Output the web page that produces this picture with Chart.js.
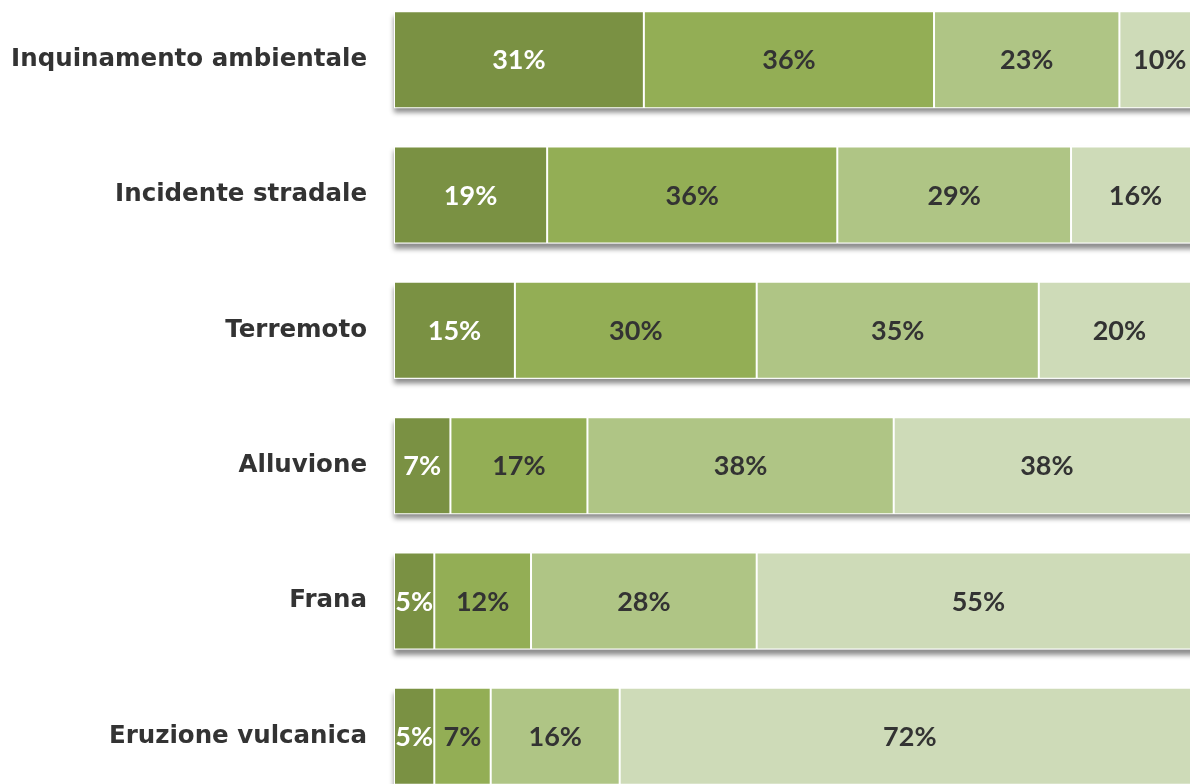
<!DOCTYPE html>
<html>
<head>
<meta charset="utf-8">
<script src="https://cdn.jsdelivr.net/npm/chart.js@4/dist/chart.umd.min.js"></script>
<style>
  html, body { margin: 0; padding: 0; background: #fff; overflow: hidden; }
  body { width: 1190px; height: 784px; position: relative; }
  #chart { position: absolute; left: 0; top: -8px; }
</style>
</head>
<body>
<canvas id="chart" width="1200" height="812"></canvas>
<script>
/*******************************************************************************
 * DATA
 */
const categories = [
  'Inquinamento ambientale',
  'Incidente stradale',
  'Terremoto',
  'Alluvione',
  'Frana',
  'Eruzione vulcanica'
];
const seriesNames = ['Molto', 'Abbastanza', 'Poco', 'Per niente'];
const molto      = [31, 19, 15, 7, 5, 5];
const abbastanza = [36, 36, 30, 17, 12, 7];
const poco       = [23, 29, 35, 38, 28, 16];
const perNiente  = [10, 16, 20, 38, 55, 72];

const colors = ['#7a9143', '#93ae55', '#afc585', '#cedbb8'];
const labelColors = ['#ffffff', '#333333', '#333333', '#333333'];

/*******************************************************************************
 * PLUGINS
 */
// soft shadow under each whole stacked bar
const barShadow = {
  id: 'barShadow',
  beforeDatasetsDraw(chart) {
    const ctx = chart.ctx;
    const n = chart.data.datasets.length;
    const first = chart.getDatasetMeta(0).data;
    const last = chart.getDatasetMeta(n - 1).data;
    ctx.save();
    ctx.shadowColor = 'rgba(0, 0, 0, 0.45)';
    ctx.shadowOffsetY = 5;
    ctx.shadowBlur = 5;
    ctx.fillStyle = '#ffffff';
    first.forEach((bar, j) => {
      const a = bar.getProps(['base', 'y', 'height'], true);
      const b = last[j].getProps(['x'], true);
      ctx.fillRect(a.base, a.y - a.height / 2, b.x - a.base, a.height);
    });
    ctx.restore();
  }
};

const barLabels = {
  id: 'barLabels',
  afterDatasetsDraw(chart) {
    const ctx = chart.ctx;
    ctx.save();
    ctx.font = 'bold 27px Lato';
    ctx.textAlign = 'center';
    ctx.textBaseline = 'middle';
    chart.data.datasets.forEach((ds, i) => {
      const meta = chart.getDatasetMeta(i);
      meta.data.forEach((bar, j) => {
        const p = bar.getProps(['x', 'y', 'base'], true);
        ctx.fillStyle = labelColors[i];
        ctx.fillText(ds.data[j] + '%', (p.x + p.base) / 2, p.y + 1);
      });
    });
    ctx.restore();
  }
};

/*******************************************************************************
 * CHART
 */
const datasets = [molto, abbastanza, poco, perNiente].map((data, i) => ({
  label: seriesNames[i],
  data: data,
  backgroundColor: colors[i],
  borderColor: '#ffffff',
  borderWidth: 1,
  borderSkipped: false,
  barPercentage: 0.717,
  categoryPercentage: 1
}));

new Chart(document.getElementById('chart'), {
  type: 'bar',
  data: { labels: categories, datasets: datasets },
  options: {
    indexAxis: 'y',
    responsive: false,
    animation: false,
    layout: { padding: 0 },
    plugins: {
      legend: { display: false },
      tooltip: { enabled: false }
    },
    scales: {
      x: {
        stacked: true,
        min: 0,
        max: 100,
        display: false
      },
      y: {
        stacked: true,
        grid: { display: false, drawTicks: false },
        border: { display: false },
        ticks: {
          padding: 27,
          color: '#333333',
          font: { family: 'DejaVu Sans', size: 24.5, weight: 'bold' }
        },
        afterFit(scale) {
          scale.width = 394;
          // labels sit in the bands, no need for end padding
          scale.paddingTop = 0;
          scale.paddingBottom = 0;
        }
      }
    }
  },
  plugins: [barShadow, barLabels]
});
</script>
</body>
</html>
